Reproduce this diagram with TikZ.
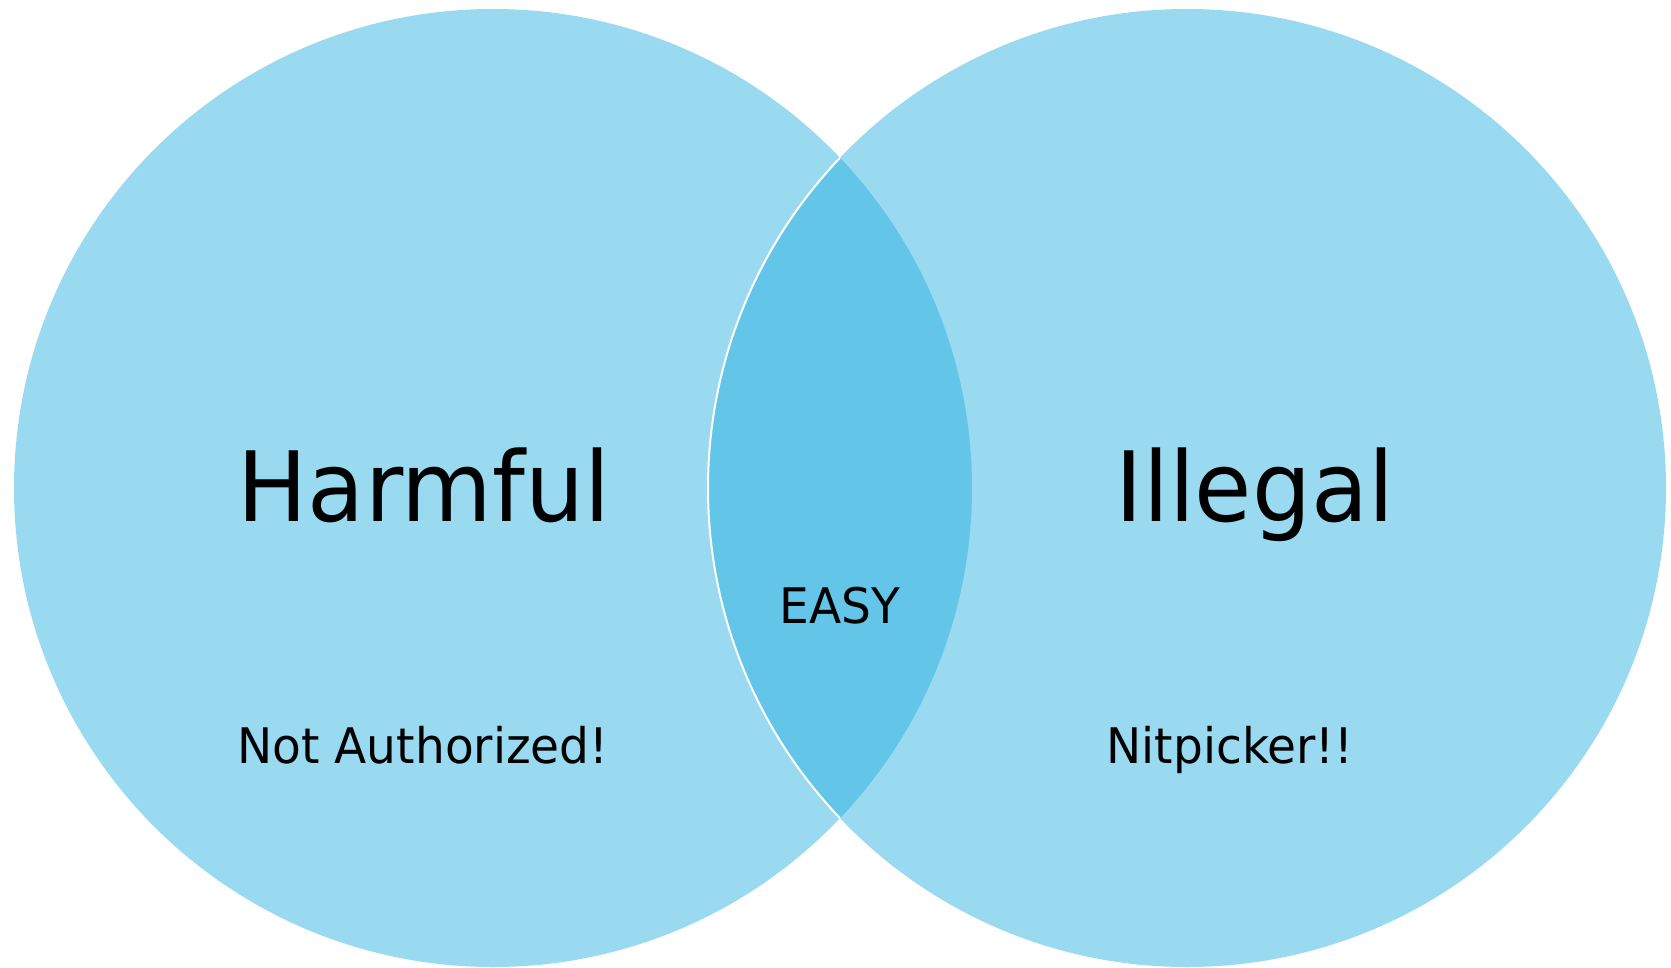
\documentclass[tikz,border=0pt]{standalone}
\usepackage{fontspec}
\setmainfont{DejaVu Sans}[FakeStretch=0.96]
\definecolor{setblue}{HTML}{99DAF1}
\definecolor{lensblue}{HTML}{63C6E8}
\tikzset{
  bigtitle/.style={anchor=base, inner sep=0pt, font=\fontsize{97}{116}\selectfont},
  smalltitle/.style={anchor=base, inner sep=0pt, font=\fontsize{49}{59}\selectfont},
}
\begin{document}
\begin{tikzpicture}[x=1pt, y=-1pt]
  \useasboundingbox (0,0) rectangle (1671,968);
  % the two sets
  \fill[setblue] (493,488) circle (479);
  \fill[setblue] (1187,488) circle (479);
  % their overlap
  \begin{scope}
    \clip (493,488) circle (479);
    \fill[lensblue] (1187,488) circle (479);
  \end{scope}
  % white rim of the right set across the left one
  \begin{scope}
    \clip (493,488) circle (479);
    \draw[white, line width=2pt] (1187,488) circle (479);
  \end{scope}
  % labels
  \node[bigtitle] (harmful) at (424,521) {Harmful};
  \node[bigtitle] (illegal) at (1255,521) {Illegal};
  \node[smalltitle] (easy) at (840,623) {EASY};
  \node[smalltitle] (notauth) at (423,763) {Not Authorized!};
  \node[smalltitle] (nitpick) at (1230,763) {Nitpicker!!};
\end{tikzpicture}
\end{document}
